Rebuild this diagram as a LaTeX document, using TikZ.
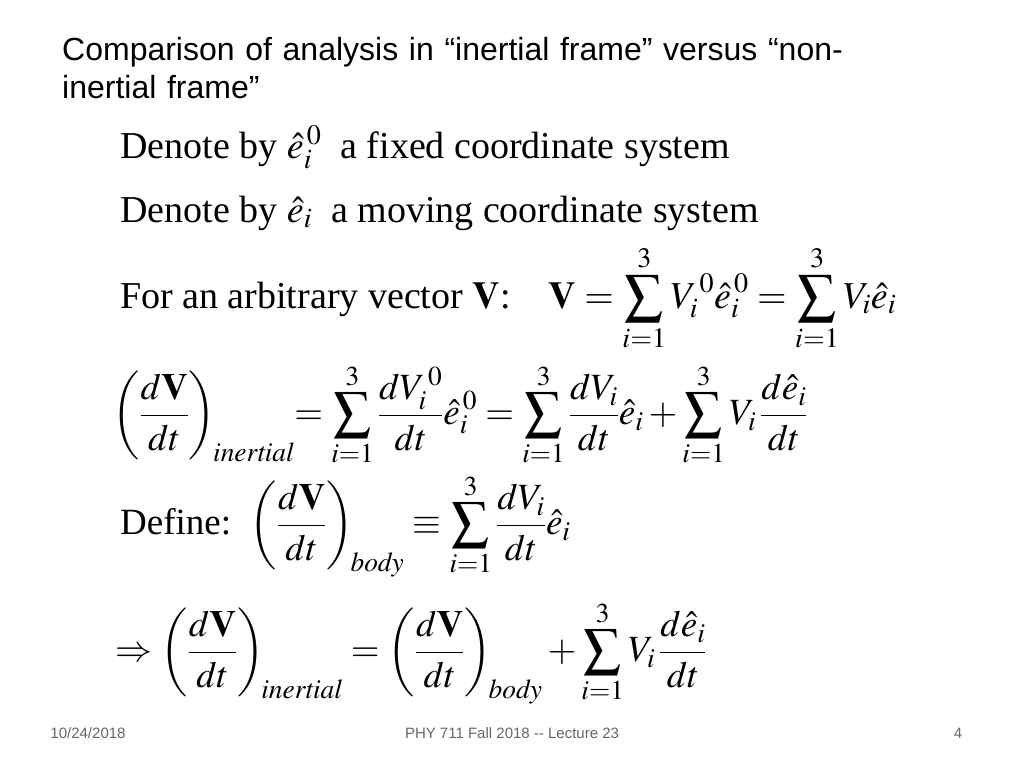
\documentclass[tikz,border=0pt]{standalone}
\usepackage{amsmath}
\usepackage{mathptmx}
\usepackage[no-math]{fontspec}
\setmainfont{Liberation Serif}
\newfontfamily\slidesans{Liberation Sans}
\begin{document}
\begin{tikzpicture}[x=1pt,y=-1pt,
  body/.style={anchor=base west,inner sep=0pt,font=\fontsize{38}{44}\selectfont},
  eqn/.style={anchor=west,inner sep=0pt,font=\fontsize{37}{44}\selectfont},
  foot/.style={anchor=base,inner sep=0pt,font=\slidesans\fontsize{15}{18}\selectfont,text=black!60}]
\useasboundingbox (0,0) rectangle (1024,768);
\node[anchor=base west,inner sep=0pt,font=\slidesans\fontsize{32}{38}\selectfont,align=left,text width=940] (title) at (62,60) {Comparison of analysis in “inertial frame” versus “non-\\inertial frame”};
\node[body] (l1) at (120,158) {Denote by $\hat e_i^{\,0}$ \ a fixed coordinate system};
\node[body] (l2) at (120,222) {Denote by $\hat e_i$ \ a moving coordinate system};
\node[body] (l3) at (120,308) {For an arbitrary vector $\mathbf{V}$:\quad $\displaystyle \mathbf{V}=\sum_{i=1}^{3}V_i^{\,0}\hat e_i^{\,0}=\sum_{i=1}^{3}V_i\hat e_i$};
\node[eqn] (l4) at (112,415) {$\displaystyle\left(\frac{d\mathbf{V}}{dt}\right)_{\!\mathit{inertial}}\!\!=\sum_{i=1}^{3}\frac{dV_i^{\,0}}{dt}\hat e_i^{\,0}=\sum_{i=1}^{3}\frac{dV_i}{dt}\hat e_i+\sum_{i=1}^{3}V_i\,\frac{d\hat e_i}{dt}$};
\node[eqn] (l5) at (120,525) {Define:\ \ $\displaystyle\left(\frac{d\mathbf{V}}{dt}\right)_{\!\mathit{body}}\equiv\sum_{i=1}^{3}\frac{dV_i}{dt}\hat e_i$};
\node[eqn] (l6) at (115,652) {$\displaystyle\Rightarrow\left(\frac{d\mathbf{V}}{dt}\right)_{\!\mathit{inertial}}=\left(\frac{d\mathbf{V}}{dt}\right)_{\!\mathit{body}}+\sum_{i=1}^{3}V_i\,\frac{d\hat e_i}{dt}$};
\node[foot] (f1) at (88,738) {10/24/2018};
\node[foot] (f2) at (512,738) {PHY 711  Fall 2018 -- Lecture 23};
\node[foot] (f3) at (958,738) {4};
\end{tikzpicture}
\end{document}
